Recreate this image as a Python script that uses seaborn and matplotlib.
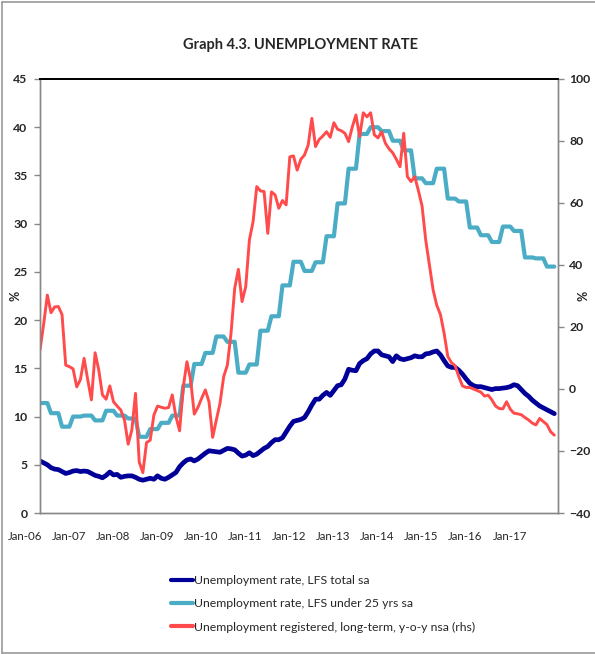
import numpy as np
import pandas as pd
import matplotlib
matplotlib.use("Agg")
from matplotlib import pyplot as plt
from matplotlib.lines import Line2D
import seaborn as sns

# monthly data, Jan-06 .. Sep-17
lfs_total = [5.4, 5.2, 5.0, 4.7, 4.55, 4.5, 4.3, 4.1, 4.2, 4.35, 4.4, 4.3,
             4.35, 4.3, 4.1, 3.9, 3.8, 3.65, 3.9, 4.25, 3.95, 4.0, 3.7, 3.8,
             3.85, 3.85, 3.7, 3.5, 3.4, 3.5, 3.6, 3.5, 3.85, 3.6, 3.5, 3.7,
             3.95, 4.2, 4.8, 5.2, 5.5, 5.6, 5.4, 5.6, 5.9, 6.2, 6.45, 6.4,
             6.35, 6.3, 6.5, 6.7, 6.65, 6.55, 6.2, 5.9, 6.0, 6.25, 5.95, 6.1,
             6.4, 6.7, 6.9, 7.3, 7.6, 7.6, 7.8, 8.4, 9.0, 9.5, 9.6, 9.7,
             9.9, 10.5, 11.2, 11.8, 11.8, 12.2, 12.5, 12.2, 12.7, 13.2, 13.3, 13.9,
             14.9, 14.8, 14.75, 15.5, 15.8, 16.0, 16.5, 16.8, 16.8, 16.4, 16.3, 16.2,
             15.7, 16.3, 16.0, 15.9, 16.0, 16.1, 16.3, 16.2, 16.2, 16.5, 16.55, 16.7,
             16.8, 16.4, 15.8, 15.25, 15.1, 15.1, 14.8, 14.4, 13.9, 13.45, 13.2, 13.1,
             13.1, 13.0, 12.9, 12.8, 12.9, 12.9, 12.95, 13.0, 13.1, 13.3, 13.2, 12.8,
             12.4, 12.1, 11.7, 11.4, 11.1, 10.9, 10.7, 10.5, 10.3]

# quarterly LFS under 25, shown as monthly steps
lfs_young_q = [11.4, 10.35, 8.95, 10.0,
               10.1, 9.6, 10.6, 10.1,
               9.8, 7.9, 8.7, 9.35,
               10.1, 13.2, 15.45, 16.6,
               18.3, 17.75, 14.55, 15.4,
               18.9, 20.4, 23.6, 26.05,
               25.1, 26.0, 28.7, 32.1,
               35.7, 39.3, 40.0, 39.6,
               38.6, 37.6, 34.7, 34.2,
               35.7, 32.6, 32.3, 29.6,
               28.8, 28.1, 29.7, 29.25,
               26.5, 26.4, 25.55]

registered_lt = [12.6, 21.0, 30.3, 24.6, 26.5, 26.6, 24.0, 7.7, 7.2, 6.5, 0.7, 3.0,
                 9.9, 2.9, -3.5, 11.7, 6.1, -1.9, -3.3, 1.0, -4.1, -5.5, -6.8, -10.0,
                 -17.8, -13.2, -1.4, -23.5, -27.0, -17.3, -16.5, -8.4, -5.5, -5.9, -6.2, -6.0,
                 -1.9, -8.9, -13.5, 0.7, 8.8, 2.9, -8.1, -5.9, -3.0, -0.3, -4.1, -15.6,
                 -10.0, -4.6, 4.0, 7.7, 18.0, 32.5, 38.6, 28.2, 33.0, 48.1, 54.0, 65.3,
                 63.9, 63.7, 50.2, 63.6, 62.6, 58.3, 60.8, 59.4, 74.9, 75.2, 70.6, 74.1,
                 75.5, 78.7, 87.3, 78.2, 80.5, 81.6, 83.0, 81.2, 85.9, 83.8, 83.3, 82.5,
                 79.8, 84.5, 88.4, 81.4, 89.1, 87.8, 89.1, 82.0, 81.0, 83.0, 79.3, 77.5,
                 76.2, 74.1, 71.7, 82.5, 68.5, 66.9, 68.5, 64.0, 59.0, 48.0, 40.0, 32.0,
                 27.0, 24.0, 18.0, 10.5, 8.5, 7.5, 4.0, 1.0, 0.5, 0.5, 0.0, -0.5,
                 -1.0, -2.3, -2.0, -3.5, -5.5, -6.3, -6.4, -4.1, -6.5, -7.8, -8.0, -8.3,
                 -9.2, -10.0, -11.0, -11.6, -9.5, -10.5, -11.5, -13.8, -14.9]

year_labels = ["Jan-%02d" % y for y in range(6, 18)]

labels = ["Unemployment rate, LFS total sa",
          "Unemployment rate, LFS under 25 yrs sa",
          "Unemployment registered, long-term, y-o-y nsa (rhs)"]
colors = ["#000099", "#4BACC6", "#FF4B4B"]

n = len(lfs_total)
df = pd.DataFrame({
    "month": np.arange(n),
    "total": lfs_total,
    "young": np.repeat(lfs_young_q, 3)[:n],
    "registered": registered_lt,
})

sns.set_style("white")
plt.rcParams["font.family"] = ["Lato", "DejaVu Sans"]

fig = plt.figure(figsize=(5.95, 6.54), dpi=100)
ax = fig.add_axes([40 / 595, 1 - 513 / 654, 518 / 595, 434 / 654])
ax2 = ax.twinx()

sns.lineplot(data=df, x="month", y="total", ax=ax, color=colors[0], lw=3.4)
sns.lineplot(data=df, x="month", y="young", ax=ax, color=colors[1], lw=3.0)
sns.lineplot(data=df, x="month", y="registered", ax=ax2, color=colors[2], lw=2.1)

ax.set_xlim(0, n)
ax.set_ylim(0, 45)
ax.set_yticks(range(0, 46, 5))
ax2.set_ylim(-40, 100)
ax2.set_yticks(range(-40, 101, 20))

ax.set_xticks(np.arange(0, n, 12) + 0.5)
ax.set_xticklabels(year_labels, ha="right", fontsize=8.3)
ax.tick_params(axis="x", length=0, pad=13)
ax.tick_params(axis="y", length=4, width=1, color="#888888", pad=5, labelsize=8.8)
ax2.tick_params(axis="y", length=4, width=1, color="#888888", pad=4, labelsize=8.8)
for t in ax.get_yticklabels() + ax2.get_yticklabels():
    t.set_fontweight("bold")

ax.set_xlabel("")
ax.set_ylabel("%", fontsize=9, fontweight="bold")
ax2.set_ylabel("%", fontsize=9, fontweight="bold", rotation=90)
ax.yaxis.set_label_coords(-19 / 518, 0.5)
ax2.yaxis.set_label_coords(538 / 518, 0.5)

for a in (ax, ax2):
    for side in ("left", "right", "bottom"):
        a.spines[side].set_color("#888888")
        a.spines[side].set_linewidth(1)
    a.spines["top"].set_color("black")
    a.spines["top"].set_linewidth(1.3)

fig.text(0.505, 1 - 45 / 654, "Graph 4.3. UNEMPLOYMENT RATE", ha="center", va="center",
         fontsize=10.5, fontweight="bold")

handles = [Line2D([], [], color=c, lw=3) for c in colors]
fig.legend(handles, labels, loc="upper left", bbox_to_anchor=(165 / 595, 1 - 569 / 654),
           frameon=False, fontsize=8.8, handlelength=1.8, handletextpad=0.1,
           labelspacing=1.0, borderpad=0)

# outer frame
fig.add_artist(Line2D([1.5 / 595, 1.5 / 595], [0.002, 1 - 2 / 654], color="#999999", lw=1.2))
fig.add_artist(Line2D([1.5 / 595, 1], [1 - 2 / 654, 1 - 2 / 654], color="#999999", lw=1.2))
fig.add_artist(Line2D([1.5 / 595, 1], [1 / 654, 1 / 654], color="#999999", lw=1.2))

fig.savefig("out.png", dpi=100)
